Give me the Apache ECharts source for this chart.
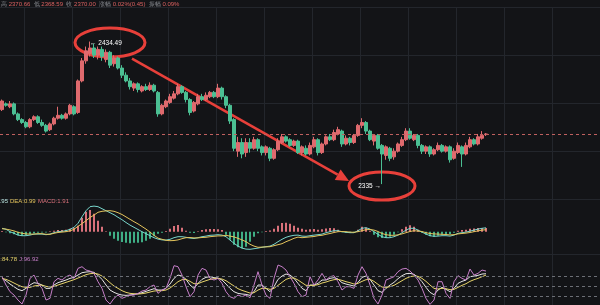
<!DOCTYPE html>
<html><head><meta charset="utf-8">
<script src="https://cdn.jsdelivr.net/npm/echarts@6/dist/echarts.min.js"></script>
<style>html,body{margin:0;padding:0;background:#131417;}#c{width:600px;height:305px;}</style>
</head><body><div id="c"></div>
<script>
// ---- data ----
// candles: [open, close, low, high]
const ohlc = [
[2387,2393,2386,2394],[2391,2390,2389,2392],[2389,2391,2388,2393],[2391,2384,2383,2392],[2384,2380,2379,2385],
[2380,2378,2377,2381],[2378,2375,2374,2379],[2375,2380,2374,2381],[2380,2382,2379,2383],[2382,2378,2377,2383],
[2378,2376,2375,2380],[2376,2372,2371,2377],[2373,2377,2372,2378],[2377,2381,2376,2382],[2381,2383,2380,2389],
[2383,2381,2380,2384],[2381,2384,2380,2385],[2384,2390,2383,2391],[2389,2384,2383,2390],[2385,2407,2384,2408],
[2407,2421,2406,2423],[2421,2428,2419,2431],[2426,2430,2424,2434.49],[2430,2425,2423,2433],[2425,2429,2422,2431],
[2429,2424,2421,2431],[2422,2427,2420,2429],[2427,2418,2416,2428],[2419,2423,2417,2425],[2423,2416,2415,2424],
[2416,2411,2409,2418],[2411,2407,2406,2413],[2407,2403,2401,2409],[2402,2405,2400,2406],[2405,2401,2399,2406],
[2400,2403,2399,2404],[2403,2401,2400,2405],[2401,2404,2400,2406],[2404,2400,2399,2405],[2399,2384,2382,2400],
[2384,2390,2383,2391],[2389,2393,2388,2394],[2392,2396,2391,2398],[2395,2398,2394,2400],[2398,2403,2397,2405],
[2403,2399,2398,2404],[2399,2394,2392,2400],[2394,2385,2383,2395],[2386,2392,2385,2393],[2391,2396,2390,2398],
[2396,2394,2393,2398],[2394,2397,2393,2399],[2396,2399,2395,2400],[2399,2396,2395,2400],[2396,2402,2395,2405],
[2402,2396,2394,2403],[2396,2390,2388,2397],[2390,2379,2377,2391],[2380,2360,2358,2381],[2358,2364,2354,2368],
[2364,2356,2353,2367],[2357,2364,2354,2367],[2364,2360,2357,2367],[2360,2366,2359,2368],[2366,2360,2358,2367],
[2361,2357,2355,2362],[2357,2361,2355,2362],[2360,2353,2351,2361],[2353,2359,2352,2360],[2359,2365,2358,2367],
[2364,2368,2363,2370],[2368,2365,2364,2369],[2366,2362,2361,2367],[2362,2365,2361,2366],[2365,2357,2356,2366],
[2357,2361,2355,2362],[2360,2356,2355,2362],[2356,2362,2355,2364],[2361,2366,2360,2368],[2366,2357,2355,2367],
[2357,2363,2356,2364],[2363,2368,2362,2369],[2368,2366,2365,2370],[2366,2371,2365,2373],[2370,2373,2369,2375],
[2372,2363,2361,2373],[2363,2367,2362,2369],[2367,2364,2362,2368],[2364,2369,2363,2370],[2369,2376,2368,2377],
[2376,2378,2374,2381],[2378,2372,2370,2379],[2372,2366,2365,2373],[2365,2369,2362,2370],[2369,2360,2359,2370],
[2362,2356,2335,2363],[2355,2361,2352,2362],[2360,2353,2351,2361],[2354,2358,2352,2360],[2358,2363,2357,2364],
[2362,2366,2361,2368],[2366,2372,2365,2374],[2372,2367,2366,2374],[2366,2369,2365,2370],[2369,2362,2360,2370],
[2362,2358,2356,2363],[2358,2361,2356,2362],[2361,2356,2354,2362],[2356,2359,2355,2360],[2359,2362,2358,2364],
[2362,2358,2357,2363],[2358,2361,2357,2362],[2361,2352,2350,2362],[2353,2358,2352,2360],[2357,2362,2356,2364],
[2361,2356,2347,2362],[2356,2362,2355,2364],[2361,2366,2360,2368],[2366,2363,2362,2367],[2363,2368,2362,2370],
[2367,2369,2366,2372],[2369.55,2370.00,2368.59,2370.66]
];
const difValues = [1.7,1.2,0,-0.8,-1.7,-2.0,-2.0,-1.7,-1.2,-1.2,
-1.2,-1.5,-1.2,-0.5,0,0.2,0.5,1.2,2.2,4.2,
7.5,10.5,12.5,12.8,12.5,11.5,10.5,9.5,8.5,7.2,
6.0,4.6,3.3,2.2,1.1,0.0,-1.0,-2.0,-3.0,-3.7,
-4.1,-4.2,-3.8,-3.0,-2.5,-2.5,-2.8,-3.2,-3.4,-3.0,
-2.5,-2.2,-1.8,-1.7,-1.5,-1.7,-2.5,-4.2,-5.8,-7.2,
-8.2,-8.7,-8.8,-8.5,-8.2,-7.8,-7.5,-7.2,-6.3,-5.0,
-3.8,-2.8,-2.2,-1.8,-1.7,-2.2,-2.3,-2.0,-1.7,-1.5,
-1.2,-0.5,0,0.5,0.5,0,-0.3,-0.5,-0.5,0.5,
1.7,2.0,1.3,0,-1.3,-2.5,-3.0,-3.0,-2.5,-1.7,
-0.5,0.8,1.7,1.7,0.8,-0.2,-1.2,-2.0,-2.3,-2.2,
-2.0,-2.0,-2.2,-1.7,-0.8,-0.5,-0.2,0.3,0.8,1.3,
1.7,1.95];
const deaValues = [1.5,1.3,0.9,0.4,-0.3,-0.8,-1.1,-1.2,-1.2,-1.0,
-1.0,-1.3,-1.3,-0.8,-0.4,-0.2,0.0,0.4,1.2,2.7,
4.0,5.5,7.1,8.3,9.7,10.2,10.4,10.5,10.2,9.5,
8.6,7.4,6.2,5.0,3.9,2.6,1.3,-0.2,-1.8,-3.2,
-3.8,-4.3,-4.5,-4.4,-4.1,-3.5,-3.0,-2.9,-3.1,-3.1,
-2.9,-2.8,-2.5,-2.3,-2.1,-2.1,-1.8,-2.2,-2.6,-3.3,
-4.1,-5.0,-6.3,-7.2,-7.8,-7.7,-7.6,-7.5,-7.0,-6.5,
-6.0,-5.0,-4.2,-3.3,-2.7,-3.0,-2.8,-2.6,-2.4,-2.0,
-1.8,-1.3,-0.9,-0.4,0.0,0.1,0.0,-0.2,-0.3,0.0,
0.5,1.0,1.1,0.8,0.1,-0.9,-1.5,-1.8,-1.8,-1.6,
-1.1,-0.5,0.1,0.5,0.3,0.1,-0.5,-0.9,-1.1,-1.2,
-1.3,-1.4,-1.6,-1.5,-1.1,-0.9,-0.7,-0.4,0.0,0.4,
0.8,0.99];
const macdValues = [0.3,-0.3,-0.8,-1.3,-1.8,-2.0,-1.8,-1.3,-0.8,-0.5,
-0.4,-0.4,0.2,0.5,0.8,0.8,1.0,1.5,2.0,3.0,
7.0,10.0,10.8,9.0,5.5,2.5,0.2,-2.0,-3.5,-4.5,
-5.2,-5.5,-5.8,-5.5,-5.5,-5.3,-4.5,-3.5,-2.3,-1.0,
-0.5,0.3,1.5,2.8,3.3,2.0,0.5,-0.5,-0.6,0.2,
0.8,1.2,1.3,1.3,1.2,0.8,-1.5,-4.0,-6.5,-7.8,
-8.3,-7.5,-5.0,-2.5,-0.8,-0.3,0.3,0.6,1.5,3.0,
4.3,4.5,4.0,3.0,2.0,1.5,1.0,1.2,1.3,1.0,
1.2,1.6,1.8,1.7,1.0,-0.3,-0.5,-0.6,-0.4,1.0,
2.5,2.0,0.5,-1.5,-2.8,-3.2,-3.0,-2.5,-1.5,-0.3,
1.2,2.5,3.2,2.5,1.0,-0.5,-1.5,-2.3,-2.5,-2.0,
-1.5,-1.3,-1.2,-0.5,0.5,0.8,1.0,1.5,1.6,1.8,
1.9,1.91];
const kValues = [75,68,58,50,42,38,45,55,62,60,
55,45,45,55,62,66,70,75,78,85,
92,94,95,93,84,72,55,40,33,28,
25,24,25,27,29,32,36,40,44,40,
40,45,58,75,85,82,72,55,45,60,
72,78,80,77,76,70,58,45,35,30,
28,27,24,35,55,55,45,35,50,72,
82,88,85,75,60,45,38,55,55,60,
70,70,75,77,73,62,58,55,52,63,
78,82,72,55,38,33,45,55,63,74,
83,89,90,87,78,65,48,33,26,40,
48,42,35,45,60,66,70,80,82,84,
88,88.87];
const dValues = [75,72,67,61,55,50,48,48,52,54,
55,51,49,51,55,59,63,67,71,76,
81,86,89,90,88,82,73,62,52,45,
38,33,30,29,28,29,31,34,37,38,
38,40,46,55,65,71,72,66,59,59,
64,68,72,74,75,73,68,60,52,44,
39,35,31,32,40,45,45,42,45,54,
63,72,76,76,70,62,54,54,54,56,
61,64,68,71,72,69,65,62,58,60,
66,71,72,66,57,49,48,50,54,61,
68,75,80,82,81,75,66,55,45,43,
45,44,41,42,48,54,59,66,71,75,
80,84.78];
const jValues = [80,55,35,25,10,-2,25,75,85,60,
45,10,15,65,75,70,80,85,75,105,
110,100,97,90,65,45,10,-2,15,25,
15,20,25,25,30,37,40,50,55,30,
40,45,75,113,110,85,50,20,35,85,
105,100,75,70,75,60,35,20,15,25,
20,25,17,55,95,55,25,15,75,115,
110,100,80,60,35,20,25,80,55,70,
90,70,80,83,65,40,50,50,45,85,
110,90,55,15,-2,25,70,75,80,95,
103,105,97,85,70,45,15,-3,10,65,
65,30,15,65,83,75,70,103,85,90,
100,96.92];
const kdjLevels = [20, 50, 80];
const lastPrice = 2370.00;
const info = {high:'2370.66', low:'2368.59', close:'2370.00', chg:'0.02%(0.45)', amp:'0.09%'};
const legendMacd = {dif:'1.95', dea:'0.99', macd:'1.91'};
const legendKdj = {k:'88.87', d:'84.78', j:'96.92'};
const SLOTS = 150;
const categories = [];
for (let i = 0; i < SLOTS; i++) categories.push(String(i + 1));

// ---- style ----
const BG = '#131417', GRID = '#23262c';
const UP = '#df6a6e', DOWN = '#4bbf93';
const ANN = '#e8403a';
const FONT = "'Liberation Sans', Arial, 'Noto Sans CJK SC', sans-serif";

const xAxisBase = (gi) => ({
  type: 'category', gridIndex: gi, data: categories, boundaryGap: true,
  axisLine: {show: false}, axisTick: {show: false}, axisLabel: {show: false},
  splitLine: {show: true, interval: (i) => i % 12 === 6, lineStyle: {color: GRID, width: 1}}
});
const hidden = {axisLine: {show: false}, axisLabel: {show: false}, axisTick: {show: false}};

const option = {
  animation: false,
  backgroundColor: BG,
  grid: [
    {left: 0, right: 0, top: 7, height: 192},
    {left: 0, right: 0, top: 199, height: 55},
    {left: 0, right: 0, top: 254, height: 51}
  ],
  xAxis: [xAxisBase(0), xAxisBase(1), xAxisBase(2)],
  yAxis: [
    Object.assign({gridIndex: 0, type: 'value', min: 2324.6, max: 2458.6, splitLine: {show: false}}, hidden),
    Object.assign({gridIndex: 1, type: 'value', min: -11.15, max: 16.35, splitLine: {show: false}}, hidden),
    Object.assign({gridIndex: 2, type: 'value', min: -4.9, max: 148.1, splitLine: {show: false}}, hidden),
    // helper axes that only draw the panel grid lines
    Object.assign({gridIndex: 0, type: 'value', min: 0, max: 4, interval: 1, position: 'right', splitLine: {show: true, lineStyle: {color: GRID}}}, hidden),
    Object.assign({gridIndex: 1, type: 'value', min: 0, max: 1, interval: 1, position: 'right', splitLine: {show: true, lineStyle: {color: GRID}}}, hidden)
  ],
  series: [
    {
      type: 'candlestick', xAxisIndex: 0, yAxisIndex: 0, data: ohlc, barWidth: 3,
      itemStyle: {color: UP, color0: DOWN, borderColor: UP, borderColor0: DOWN, borderWidth: 1},
      markLine: {silent: true, symbol: ['none', 'none'], label: {show: false},
        lineStyle: {color: '#c0605f', type: [3, 3], width: 1},
        data: [{yAxis: lastPrice}]}
    },
    {
      type: 'bar', xAxisIndex: 1, yAxisIndex: 1, data: macdValues, barWidth: 2,
      itemStyle: {color: (p) => p.value >= 0 ? '#d9717a' : '#3fae85'}
    },
    {type: 'line', xAxisIndex: 1, yAxisIndex: 1, data: difValues, symbol: 'none', lineStyle: {color: '#79d6cc', width: 1}},
    {type: 'line', xAxisIndex: 1, yAxisIndex: 1, data: deaValues, symbol: 'none', lineStyle: {color: '#e3c35c', width: 1}},
    {type: 'line', xAxisIndex: 2, yAxisIndex: 2, data: kValues, symbol: 'none', lineStyle: {color: '#e6e6e6', width: 1},
      markLine: {silent: true, symbol: ['none', 'none'], label: {show: false},
        lineStyle: {color: '#6c6f76', type: [3, 3], width: 1},
        data: kdjLevels.map(v => ({yAxis: v}))}},
    {type: 'line', xAxisIndex: 2, yAxisIndex: 2, data: dValues, symbol: 'none', lineStyle: {color: '#e6d36a', width: 1}},
    {type: 'line', xAxisIndex: 2, yAxisIndex: 2, data: jValues, symbol: 'none', lineStyle: {color: '#c77fc9', width: 1}}
  ]
};

const chart = echarts.init(document.getElementById('c'), null, {renderer: 'canvas'});
chart.setOption(option);

// annotations anchored on the extreme candles
let hiIdx = 0, loIdx = 0;
ohlc.forEach((c, i) => { if (c[3] > ohlc[hiIdx][3]) hiIdx = i; if (c[2] < ohlc[loIdx][2]) loIdx = i; });
const hiVal = ohlc[hiIdx][3], loVal = ohlc[loIdx][2];
const hp = chart.convertToPixel({xAxisIndex: 0, yAxisIndex: 0}, [hiIdx, hiVal]);
const lp = chart.convertToPixel({xAxisIndex: 0, yAxisIndex: 0}, [loIdx, loVal]);

const ax1 = hp[0] + 42, ay1 = hp[1] + 17;
const ax2 = lp[0] - 33, ay2 = lp[1] - 3;
const ang = Math.atan2(ay2 - ay1, ax2 - ax1);
const hl = 13, hw = 6;
const bx = ax2 - hl * Math.cos(ang), by = ay2 - hl * Math.sin(ang);
const head = [[ax2, ay2], [bx + hw * Math.sin(ang), by - hw * Math.cos(ang)], [bx - hw * Math.sin(ang), by + hw * Math.cos(ang)]];

const txt = (x, y, text, color, align, size, family) => ({
  type: 'text', x: x, y: y,
  style: {text: text, fill: color, align: align || 'left', verticalAlign: 'middle', fontSize: size || 6, fontFamily: family || FONT}
});

chart.setOption({
  graphic: [
    {type: 'ellipse', shape: {cx: hp[0] + 20, cy: hp[1] + 1, rx: 35, ry: 14.5}, style: {fill: 'none', stroke: ANN, lineWidth: 3}},
    {type: 'ellipse', shape: {cx: lp[0], cy: lp[1] + 2, rx: 33, ry: 14}, style: {fill: 'none', stroke: ANN, lineWidth: 3}},
    {type: 'line', shape: {x1: ax1, y1: ay1, x2: bx, y2: by}, style: {stroke: ANN, lineWidth: 2.5}},
    {type: 'polygon', shape: {points: head}, style: {fill: ANN}},
    txt(hp[0], hp[1] + 2, '← ' + hiVal.toFixed(2), '#ffffff', 'left', 6.5),
    txt(lp[0] - 1, lp[1] + 2, String(loVal) + ' →', '#ffffff', 'right', 6.5),
    {
      type: 'text', x: 1, y: 4.5,
      style: {
        text: '{l|高 }{v|' + info.high + '}  {l|低 }{v|' + info.low + '}  {l|收 }{v|' + info.close + '}  {l|涨幅 }{v|' + info.chg + '}  {l|振幅 }{v|' + info.amp + '}',
        verticalAlign: 'middle', fontSize: 6, fontFamily: "'Liberation Sans Narrow', 'Liberation Sans', 'Noto Sans CJK SC', sans-serif",
        rich: {l: {fill: '#8a8d93', fontSize: 6}, v: {fill: '#d8605f', fontSize: 6}}
      }
    },
    txt(8, 201.5, 'DIF:' + legendMacd.dif, '#b9e4df', 'right'),
    txt(10, 201.5, 'DEA:' + legendMacd.dea, '#e3c35c', 'left'),
    txt(38, 201.5, 'MACD:' + legendMacd.macd, '#d9717a', 'left'),
    txt(-26, 259, 'K:' + legendKdj.k, '#e6e6e6', 'right'),
    txt(17, 259, 'D:' + legendKdj.d, '#e6d36a', 'right'),
    txt(19, 259, 'J:' + legendKdj.j, '#c77fc9', 'left')
  ]
});
</script>
</body></html>
